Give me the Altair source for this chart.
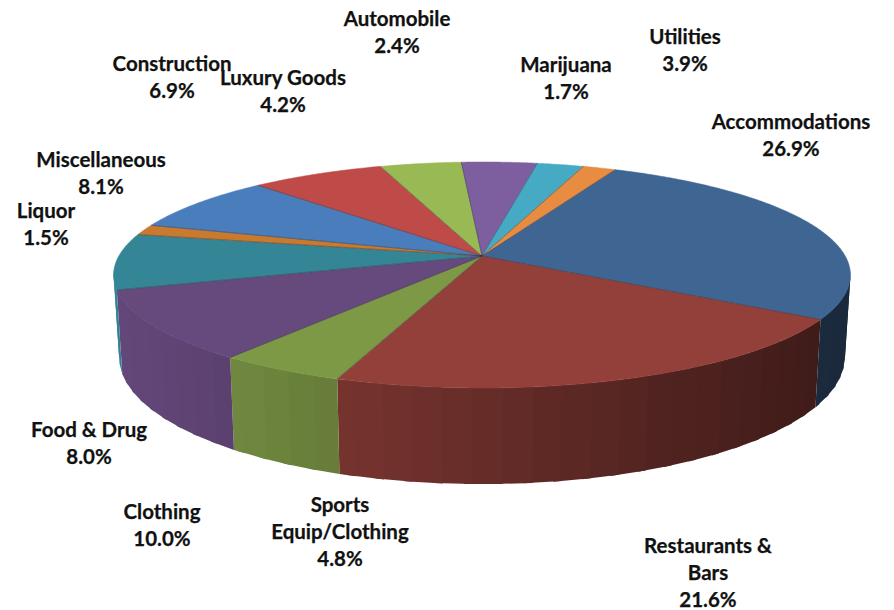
import math
import altair as alt
import pandas as pd

# Sales-share categories, clockwise from the first slice
names = ["Accommodations", "Restaurants & Bars", "Sports Equip/Clothing", "Clothing",
         "Food & Drug", "Liquor", "Miscellaneous", "Construction", "Luxury Goods",
         "Utilities", "Automobile", "Marijuana"]
shares = [26.9, 21.6, 4.8, 10.0, 8.0, 1.5, 8.1, 6.9, 4.2, 3.9, 2.4, 1.7]
top_colors = ["#3F6592", "#93403A", "#7E9946", "#66497D", "#348596", "#C87A2E",
              "#4A7DBB", "#BE4B48", "#98B954", "#7D5FA0", "#46AAC5", "#E88C42"]

# Label lines and their anchor points
label_lines = [["Accommodations"], ["Restaurants &", "Bars"], ["Sports", "Equip/Clothing"],
               ["Clothing"], ["Food & Drug"], ["Liquor"], ["Miscellaneous"], ["Construction"],
               ["Luxury Goods"], ["Utilities"], ["Automobile"], ["Marijuana"]]
label_x = [791, 708, 340, 162, 89, 46, 101, 172, 283, 685, 397, 566]
label_y = [123, 547, 506, 513, 431, 212, 161, 65, 79, 38, 20, 66]

W, H = 894, 610
LINE_STEP = 27

# Perspective view of the disc
CX, CY = 482, 256
RX, RY, PERSP = 363.2, 109.8, 0.168
DEPTH, BOTTOM_SHRINK = 80, 0.985
START = 25.0


def rim(theta, bottom=False):
    t = math.radians(theta)
    u, v = math.sin(t), math.cos(t)
    w = 1 + PERSP * v
    x = RX * u / w
    y = -RY * v / w
    if bottom:
        return CX + x * BOTTOM_SHRINK, CY + y + DEPTH / w
    return CX + x, CY + y


def shade(color, x):
    f = max(0.4, min(1.0, 0.93 - 0.00078 * (x - 175)))
    rgb = [int(color[i:i + 2], 16) for i in (1, 3, 5)]
    return "#" + "".join(f"{round(c * f):02x}" for c in rgb)


edges = [START]
for s in shares:
    edges.append(edges[-1] + s * 3.6)

tops, spokes, walls, labels = [], [], [], []
for k, (name, color) in enumerate(zip(names, top_colors)):
    a, b = edges[k], edges[k + 1]
    n = max(2, int((b - a) * 2))
    pts = [(CX, CY)] + [rim(a + (b - a) * i / n) for i in range(n + 1)]
    for i, (x, y) in enumerate(pts):
        tops.append({"id": name, "i": i, "x": x, "y": y, "c": color})
    ex, ey = rim(a)
    spokes += [{"id": name, "i": 0, "x": CX, "y": CY}, {"id": name, "i": 1, "x": ex, "y": ey}]

    # Side wall: shaded bands along the visible front of the rim, each overlapping
    # its neighbour so no seam shows through
    lo, hi = max(a, 97.0), min(b, 263.0)
    theta = lo
    band = 0
    while theta < hi:
        nxt = min(theta + 4.0, hi)
        far = min(nxt + 0.6, hi)
        near = max(theta - 0.6, lo)
        p = [rim(near), rim(far), rim(far, True), rim(near, True)]
        fill = shade(color, (rim(theta)[0] + rim(nxt)[0]) / 2)
        for i, (x, y) in enumerate(p + p[:1]):
            walls.append({"id": f"{k:02d}-{band:03d}", "i": i, "x": x, "y": y, "c": fill})
        theta = nxt
        band += 1

    lines = label_lines[k] + [f"{shares[k]:.1f}%"]
    for j, line in enumerate(lines):
        labels.append({"x": label_x[k], "y": label_y[k] + j * LINE_STEP, "t": line})

xs = alt.Scale(domain=[0, W], range=[0, W])
ys = alt.Scale(domain=[0, H], range=[0, H])
X = alt.X("x:Q", scale=xs, axis=None)
Y = alt.Y("y:Q", scale=ys, axis=None)

wall_layer = alt.Chart(pd.DataFrame(walls)).mark_line(filled=True, strokeWidth=0).encode(
    x=X, y=Y, detail="id:N", order="i:Q",
    fill=alt.Fill("c:N", scale=None),
)
top_layer = alt.Chart(pd.DataFrame(tops)).mark_line(filled=True, strokeWidth=0.5).encode(
    x=X, y=Y, detail="id:N", order="i:Q",
    fill=alt.Fill("c:N", scale=None), stroke=alt.Stroke("c:N", scale=None),
)
spoke_layer = alt.Chart(pd.DataFrame(spokes)).mark_line(color="#2a2a3a", strokeWidth=0.8, opacity=0.55).encode(
    x=X, y=Y, detail="id:N", order="i:Q",
)
text_layer = alt.Chart(pd.DataFrame(labels)).mark_text(
    font="Lato", fontWeight="bold", fontSize=20.5, color="#111111", stroke="#111111", strokeWidth=0.25,
    align="center", baseline="middle",
).encode(x=X, y=Y, text="t:N")

chart = (wall_layer + top_layer + spoke_layer + text_layer).properties(
    width=W, height=H, padding=0, autosize=alt.AutoSizeParams(type="none"), background="white",
).configure_view(stroke=None)

chart.save("out.html", embed_options={"renderer": "svg", "actions": False})
